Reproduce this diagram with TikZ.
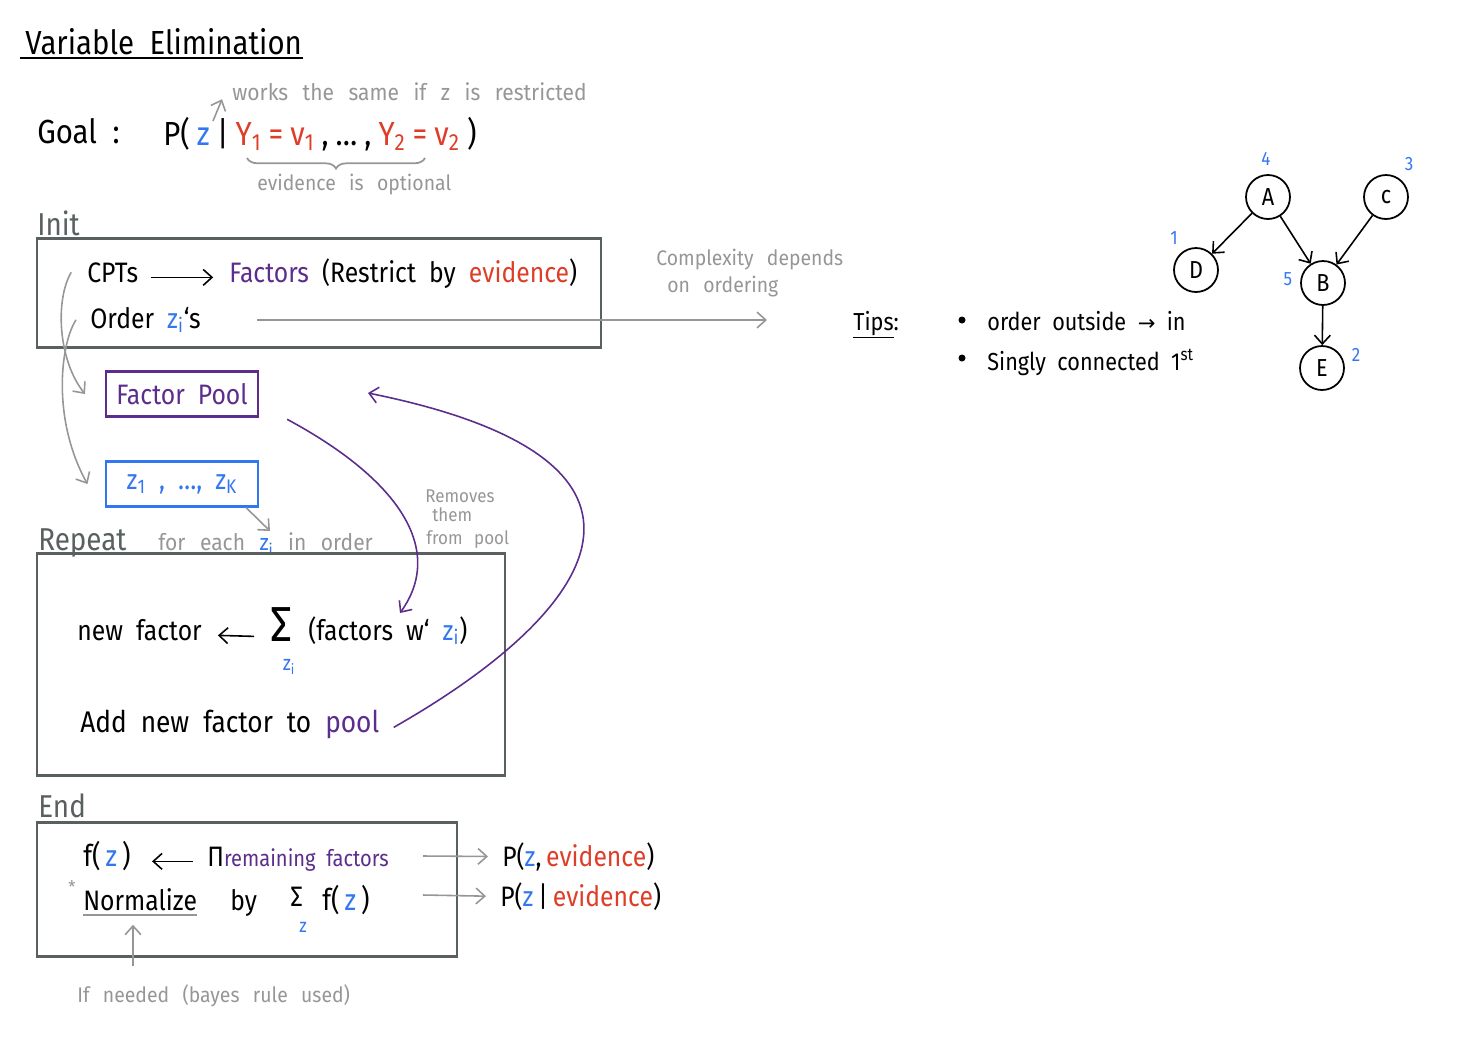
\documentclass[tikz,border=0pt]{standalone}
\usepackage{fontspec}
\setmainfont{Fira Sans}[FakeStretch=0.88, WordSpace=2.0]
\newfontfamily\notefont{Fira Sans}[FakeStretch=0.92, WordSpace=1.4]
\newfontfamily\widenote{Fira Sans}[FakeStretch=0.92, WordSpace=2.6]
\newfontfamily\symfont{DejaVu Sans}
\usetikzlibrary{arrows.meta,decorations.pathreplacing}
\definecolor{hblue}{RGB}{51,119,240}
\definecolor{hred}{RGB}{222,62,40}
\definecolor{hpurple}{RGB}{92,45,140}
\definecolor{hgray}{RGB}{150,150,150}
\definecolor{hdark}{RGB}{88,96,96}
\tikzset{
  t/.style={anchor=base west, inner sep=0pt, font=\fontsize{16}{19}\selectfont},
  small/.style={anchor=base west, inner sep=0pt, font=\notefont\fontsize{12}{14}\selectfont, text=hgray},
  head/.style={anchor=base west, inner sep=0pt, font=\fontsize{18}{21}\selectfont, text=hdark},
  frame/.style={draw=hdark, line width=1.7pt},
  arr/.style={-{Straight Barb[length=5pt,width=9pt]}, line width=0.9pt},
  garr/.style={arr, draw=hgray},
  parr/.style={arr, draw=hpurple},
  bn/.style={circle, draw, line width=1pt, minimum size=0.88cm, inner sep=0pt, font=\fontsize{14}{16}\selectfont},
  num/.style={inner sep=0pt, text=hblue, font=\fontsize{11}{13}\selectfont},
  poolbox/.style={draw, line width=1.2pt, minimum width=3.04cm, minimum height=0.9cm, font=\fontsize{16}{19}\selectfont}
}
\newcommand{\zb}{\textcolor{hblue}{z}}
\newcommand{\zi}{\textcolor{hblue}{z\textsubscript{i}}}
\newcommand{\gap}{\hspace{4pt}}
\begin{document}
\begin{tikzpicture}[x=0.02cm, y=-0.02cm]
\useasboundingbox (0,0) rectangle (1465,1039);

% title
\node[t, font=\fontsize{19}{23}\selectfont] (title) at (25,54) {Variable Elimination};
\draw[line width=1.3pt] (20,58) -- (303,58);

% goal
\node[small, font=\widenote\fontsize{13}{15}\selectfont] (works) at (232,100) {works the same if z is restricted};
\coordinate (zgoal) at (213,121);
\node[t, font=\fontsize{19}{23}\selectfont] (goal) at (37,143) {Goal :};
\node[t, font=\fontsize{19}{23}\selectfont] (prob) at (163,145)
  {P(\gap\zb\gap|\gap\textcolor{hred}{Y\textsubscript{1}\gap=\gap v\textsubscript{1}}\gap,\gap\dots\gap,\gap\textcolor{hred}{Y\textsubscript{2}\gap=\gap v\textsubscript{2}}\gap)};
\draw[garr] (zgoal) -- ([shift={(-10,8)}]works.west);
\draw[hgray, line width=1pt, decorate, decoration={brace, mirror, amplitude=6pt}] (247,158) -- (425,158);
\node[small] (optional) at (257,190) {evidence is optional};

% init
\node[head] (init) at (37,235) {Init};
\draw[frame] (37,238) rectangle (601,347);
\node[t] (cpts) at (87,282) {CPTs};
\node[t] (factors) at (229,282) {\textcolor{hpurple}{Factors} (Restrict by \textcolor{hred}{evidence})};
\draw[arr] ([xshift=7pt]cpts.mid east) -- ([xshift=-9pt]factors.mid west);
\node[t] (order) at (90,328) {Order \zi`s};
\coordinate (ordstart) at (257,320);
\coordinate (ordend) at (767,320);
\draw[garr] (ordstart) -- (ordend);
\node[small, font=\notefont\fontsize{12}{14}\selectfont] (cplx) at (656,265) {Complexity depends};
\node[small, font=\notefont\fontsize{12}{14}\selectfont] (cplx2) at (667,292) {on ordering};

% tips
\node[t, font=\fontsize{14}{17}\selectfont] (tips) at (853,330) {\underline{Tips}:};
\fill (962,320) circle (3.5);
\fill (962,358) circle (3.5);
\node[t, font=\fontsize{14}{17}\selectfont] (tip1) at (987,330) {order outside {\symfont\fontsize{12}{14}\selectfont →} in};
\node[t, font=\fontsize{14}{17}\selectfont] (tip2) at (987,370) {Singly connected 1\textsuperscript{st}};

% network
\node[bn] (A) at (1268,197) {A};
\node[bn] (C) at (1386,197) {c};
\node[bn] (D) at (1196,270) {D};
\node[bn] (B) at (1323,283) {B};
\node[bn] (E) at (1322,368) {E};
\draw[arr] (A) -- (D);
\draw[arr] (A) -- (B);
\draw[arr] (C) -- (B);
\draw[arr] (B) -- (E);
\node[num] (n4) at (1266,159) {4};
\node[num] (n3) at (1409,164) {3};
\node[num] (n1) at (1174,238) {1};
\node[num] (n5) at (1288,279) {5};
\node[num] (n2) at (1356,355) {2};

% pool and ordering boxes
\node[poolbox, draw=hpurple, text=hpurple] (pool) at (182,394) {Factor Pool};
\node[poolbox, draw=hblue, text=hblue] (zs) at (182,484) {z\textsubscript{1} , \dots , z\textsubscript{K}};
\draw[garr] ([xshift=-9pt]cpts.west) .. controls (55,300) and (58,360) .. ([xshift=-0.4cm]pool.west);
\draw[garr] ([xshift=-8pt]order.west) .. controls (60,345) and (52,420) .. ([xshift=-0.35cm]zs.west);

% repeat
\node[head] (repeat) at (38,550) {Repeat};
\node[small, font=\widenote\fontsize{13}{15}\selectfont] (foreach) at (158,550) {for each \zi\ in order};
\coordinate (zitop) at (270,531);
\draw[garr] ([xshift=-13*0.569pt]zs.south east) -- (zitop);
\draw[frame] (37,553) rectangle (505,775);
\node[t] (newf) at (77,640) {new factor};
\node[t, font=\fontsize{28}{30}\selectfont] (sum) at (270,641) {Σ};
\node[num, font=\fontsize{12}{14}\selectfont] (sumsub) at (289,667) {z\textsubscript{i}};
\node[t] (facw) at (308,640) {(factors w` \zi)};
\draw[arr] ([xshift=-9pt]sum.mid west) -- ([xshift=9pt]newf.mid east);
\node[t, font=\fontsize{17}{20}\selectfont] (addf) at (80,732) {Add new factor to \textcolor{hpurple}{pool}};
\node[small, font=\notefont\fontsize{10.5}{12}\selectfont] (rem1) at (425,502) {Removes};
\node[small, font=\notefont\fontsize{10.5}{12}\selectfont] (rem2) at (432,521) {them};
\node[small, font=\notefont\fontsize{10.5}{12}\selectfont] (rem3) at (426,544) {from pool};
\coordinate (suminto) at (400,613);
\coordinate (poolinto) at (368,393);
\draw[parr] ([xshift=16pt,yshift=-1pt]pool.south east) .. controls (400,480) and (445,550) .. (suminto);
\draw[parr] ([xshift=8pt]addf.mid east) .. controls (600,610) and (700,460) .. (poolinto);

% end
\node[head] (endl) at (38,817) {End};
\draw[frame] (37,822) rectangle (457,956);
\node[t, font=\fontsize{17}{20}\selectfont] (fz) at (83,866) {f(\,\zb\,)};
\node[t] (prod) at (207,866) {Π\textcolor{hpurple}{\fontsize{13}{15}\selectfont remaining factors}};
\draw[arr] ([xshift=-8pt]prod.mid west) -- ([xshift=12pt]fz.mid east);
\node[small, font=\notefont\fontsize{10}{12}\selectfont] (star) at (68,893) {*};
\node[t] (norm) at (83,910) {Normalize};
\draw[hgray, line width=1.2pt] ([yshift=-3pt]norm.base west) -- ([yshift=-3pt]norm.base east);
\node[t] (by) at (230,910) {by};
\node[t, font=\fontsize{16}{19}\selectfont] (sum2) at (290,906) {Σ};
\node[num, font=\fontsize{11}{13}\selectfont] (sum2sub) at (303,927) {z};
\node[t, font=\fontsize{17}{20}\selectfont] (fz2) at (322,910) {f(\,\zb\,)};
\node[t] (p1) at (502,866) {P(\zb,\,\textcolor{hred}{evidence})};
\node[t] (p2) at (500,906) {P(\zb\,|\,\textcolor{hred}{evidence})};
\coordinate (a1) at (423,856);
\coordinate (a2) at (423,895);
\draw[garr] (a1) -- ([xshift=-8pt]p1.west);
\draw[garr] (a2) -- ([xshift=-8pt]p2.west);
\node[small, font=\notefont\fontsize{12}{14}\selectfont] (needed) at (77,1002) {If needed (bayes rule used)};
\draw[garr] ([yshift=10pt]needed.north west -| 133,0) -- ([yshift=-8pt]norm.south west -| 133,0);
\end{tikzpicture}
\end{document}
